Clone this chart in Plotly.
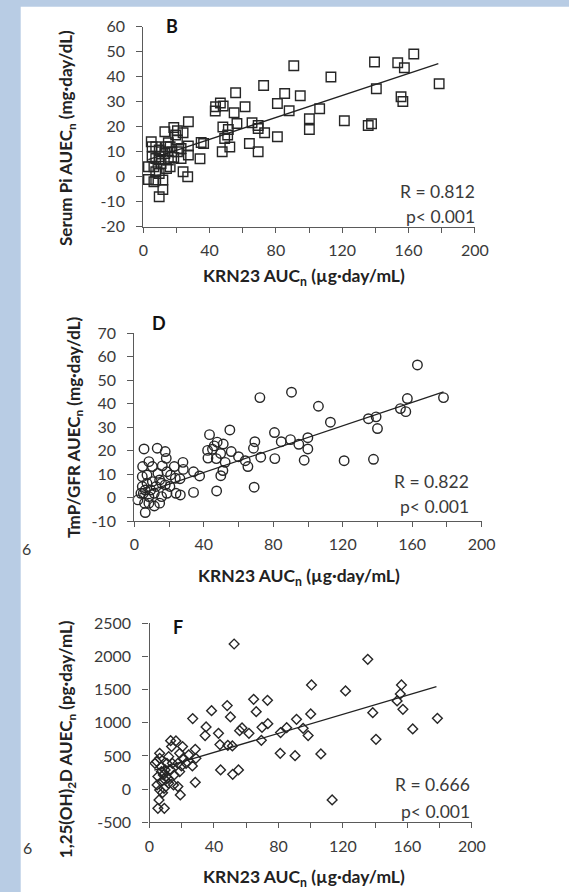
import plotly.graph_objects as go

W, H = 569, 892

# ---------------- Data ----------------
# Panel B: Serum Pi AUECn vs KRN23 AUCn
b_x = [163.2, 139.5, 153.5, 157.5, 90.8, 113.2, 72.6, 178.5, 140.6, 55.7, 85.3, 94.7, 155.5, 156.6,
       46.5, 80.9, 43.6, 48.2, 61.4, 43.4, 54.8, 88.0, 106.4, 56.5, 65.6, 100.2, 100.2, 121.3, 135.7,
       137.7, 48.0, 51.3, 69.3, 69.3, 73.2, 80.9, 50.9, 49.1, 36.4, 34.9, 64.0, 52.2, 47.6, 69.3, 34.2,
       27.2, 18.4, 20.6, 13.0, 24.0, 19.5, 20.6, 4.8, 15.1, 7.5, 16.2, 22.8, 27.2, 20.6, 13.0, 27.2,
       9.6, 5.3, 18.4, 15.1, 3.1, 10.7, 6.4, 7.5, 24.0, 26.8, 3.1, 7.5, 11.8, 11.8, 9.6, 6.4, 16.2,
       14.0, 9.6, 5.3, 10.7, 9.6, 7.5, 17.3, 14.0, 22.8, 9.6]
b_y = [49.1, 45.9, 45.6, 43.6, 44.4, 39.9, 36.5, 37.2, 35.2, 33.6, 33.3, 32.4, 32.0, 30.1,
       29.5, 29.3, 28.0, 28.3, 28.0, 26.3, 25.6, 26.4, 27.2, 21.3, 21.6, 23.2, 18.9, 22.4, 20.5,
       21.2, 19.9, 18.9, 20.5, 19.3, 17.6, 16.0, 16.7, 15.3, 13.3, 13.7, 13.3, 11.9, 10.0, 10.0, 7.2,
       22.0, 19.7, 18.4, 18.0, 17.6, 16.7, 14.7, 14.0, 13.6, 12.0, 12.0, 11.3, 12.3, 10.0, 9.3, 8.7,
       8.0, 8.0, 7.7, 6.7, 4.0, 5.3, 4.0, 2.0, 2.0, 0.0, -1.1, -1.3, -1.3, -5.1, -8.0, -2.0, 4.0,
       3.3, 1.3, 12.0, 10.0, 6.7, 7.3, 10.0, 12.0, 7.3, 10.7]
b_fit_x = [3, 178]
b_fit_y = [6.8, 45.2]

# Panel D: TmP/GFR AUECn vs KRN23 AUCn
d_x = [163.0, 90.5, 72.3, 178.0, 157.2, 106.0, 153.2, 156.3, 134.8, 139.2, 140.0, 112.9, 55.0, 43.3,
       80.7, 89.9, 84.6, 99.9, 94.7, 99.9, 69.4, 68.6, 72.8, 80.9, 97.8, 120.8, 137.7, 47.7, 46.0,
       51.2, 42.2, 45.0, 49.7, 55.8, 42.4, 47.2, 52.3, 60.0, 63.9, 65.4, 51.0, 49.8, 34.1, 37.6, 34.1,
       47.4, 69.0, 28.0, 28.2, 26.3, 26.5, 23.6, 23.0, 17.8, 18.4, 13.2, 5.6, 4.8, 8.4, 10.4, 13.6,
       16.1, 18.8, 14.6, 17.8, 20.5, 24.0, 18.8, 15.7, 14.6, 11.5, 8.4, 6.3, 2.1, 4.6, 4.6, 5.2, 7.3,
       9.4, 8.4, 12.5, 10.4, 6.3, 7.3, 11.5, 20.9, 15.7, 3.8, 5.9]
d_y = [56.5, 44.9, 42.6, 42.6, 42.2, 38.9, 37.9, 36.6, 33.6, 34.4, 29.4, 32.1, 28.8, 26.8,
       27.7, 24.7, 23.8, 25.5, 22.7, 20.7, 23.8, 21.0, 17.2, 16.6, 15.9, 15.7, 16.3, 23.6, 22.0,
       22.8, 20.1, 20.6, 18.8, 19.6, 16.8, 16.6, 15.0, 17.4, 15.7, 13.2, 11.5, 9.3, 11.0, 9.2, 2.2,
       2.8, 4.4, 15.0, 12.0, 8.0, 1.1, 8.2, 13.2, 19.6, 16.7, 21.0, 20.7, 13.2, 15.3, 13.2, 10.3,
       13.5, 11.0, 7.5, 5.4, 4.7, 1.8, 1.8, 0.4, -2.4, -3.6, -2.4, -6.4, -1.0, 8.9, 4.7, 1.8, 6.1,
       3.2, 0.4, 4.7, 6.8, 3.2, 9.6, 1.8, 9.6, 6.1, 1.8, -2.4]
d_fit_x = [3, 178]
d_fit_y = [1.5, 45.0]

# Panel F: 1,25(OH)2D AUECn vs KRN23 AUCn
f_x = [52.5, 135.4, 100.5, 156.3, 121.6, 155.6, 153.6, 157.2, 138.5, 178.6, 163.3, 140.5, 100.0, 98.4,
       95.3, 91.2, 85.1, 81.3, 81.1, 90.3, 106.3, 113.3, 64.6, 73.2, 66.2, 73.4, 69.8, 69.4, 61.7,
       57.4, 55.9, 48.2, 50.2, 38.5, 26.8, 35.1, 34.5, 42.8, 43.7, 48.6, 51.4, 44.1, 51.6, 55.2, 28.4,
       28.8, 26.6, 28.4, 24.3, 20.5, 18.7, 21.0, 16.4, 13.1, 13.7, 17.6, 18.7, 19.1, 17.6, 14.9, 11.9,
       11.5, 10.8, 9.7, 6.3, 4.5, 3.4, 6.3, 7.4, 5.2, 4.7, 7.4, 8.6, 9.7, 8.1, 5.9, 5.2, 9.2, 6.3,
       9.0, 13.1, 15.3, 7.4, 10.4, 11.9, 14.2, 19.8, 22.7]
f_y = [2188, 1957, 1570, 1570, 1480, 1435, 1329, 1204, 1153, 1068, 907, 751, 1133, 807,
       917, 1053, 927, 852, 540, 505, 530, -163, 1354, 1339, 1168, 987, 932, 736, 842,
       922, 882, 1259, 1088, 1183, 1063, 937, 807, 842, 671, 661, 651, 289, 224, 289, 601,
       465, 349, 103, 515, 641, 540, 465, 726, 731, 641, 389, 264, -88, 38, 63, 88,
       163, 389, 289, 540, 415, 389, 465, 264, 189, 63, 113, 214, 138, -53, -163, -289, -289, -13,
       13, 289, 214, 339, 189, 490, 389, 349, 389]
f_fit_x = [3, 178]
f_fit_y = [288, 1545]

x_range = [0, 200]
b_range, d_range, f_range = [-20, 60], [-10, 70], [-500, 2500]

# y tick labels (plain hyphen minus, as in the reference)
b_ticks = [-20, -10, 0, 10, 20, 30, 40, 50, 60]
b_ticklabels = ["-20", "-10", "0", "10", "20", "30", "40", "50", "60"]
d_ticks = [-10, 0, 10, 20, 30, 40, 50, 60, 70]
d_ticklabels = ["-10", "0", "10", "20", "30", "40", "50", "60", "70"]
f_ticks = [-500, 0, 500, 1000, 1500, 2000, 2500]
f_ticklabels = ["-500", "0", "500", "1000", "1500", "2000", "2500"]

x_title = "KRN23 AUC<sub>n</sub> (µg·day/mL)"
b_title = "Serum Pi AUEC<sub>n</sub> (mg·day/dL)"
d_title = "TmP/GFR AUEC<sub>n</sub> (mg·day/dL)"
f_title = "1,25(OH)<sub>2</sub>D AUEC<sub>n</sub> (pg·day/mL)"
stats = [("R = 0.812", "p< 0.001"), ("R = 0.822", "p< 0.001"), ("R = 0.666", "p< 0.001")]
letters = ["B", "D", "F"]

# ---------------- Layout helpers ----------------
FONT = "Lato, 'Open Sans', sans-serif"
TXT = "#3a3a3a"
AX = "#5a5a5a"
MK = "#262626"


def fx(px):
    return px / W


def fy(py):
    return 1 - py / H


panels = [
    dict(x0=143.3, x1=474.8, yt=26.7, yb=226.7),
    dict(x0=134.3, x1=481.7, yt=333.3, yb=521.0),
    dict(x0=149.5, x1=471.9, yt=623.3, yb=822.3),
]

fig = go.Figure()

series = [
    (b_x, b_y, b_fit_x, b_fit_y, "square-open", 9.5),
    (d_x, d_y, d_fit_x, d_fit_y, "circle-open", 9.5),
    (f_x, f_y, f_fit_x, f_fit_y, "diamond-open", 7.5),
]

for i, (xs, ys, fxs, fys, sym, sz) in enumerate(series):
    suf = "" if i == 0 else str(i + 1)
    fig.add_trace(go.Scatter(x=xs, y=ys, mode="markers", xaxis="x" + suf, yaxis="y" + suf,
                             marker=dict(symbol=sym, size=sz, color=MK, line=dict(width=1.4, color=MK)),
                             cliponaxis=False, showlegend=False, hoverinfo="skip"))
    fig.add_trace(go.Scatter(x=fxs, y=fys, mode="lines", xaxis="x" + suf, yaxis="y" + suf,
                             line=dict(color="#222222", width=1.3), showlegend=False, hoverinfo="skip"))

yranges = [b_range, d_range, f_range]
yticks = [(b_ticks, b_ticklabels), (d_ticks, d_ticklabels), (f_ticks, f_ticklabels)]

layout = dict(
    template="none",
    width=W, height=H, autosize=False,
    margin=dict(l=0, r=0, t=0, b=0, pad=0, autoexpand=False),
    paper_bgcolor="#b8cce4", plot_bgcolor="rgba(0,0,0,0)",
    font=dict(family=FONT, color=TXT, size=16),
    shapes=[dict(type="rect", xref="paper", yref="paper", x0=fx(20.7), x1=1.0, y0=0, y1=fy(6.7),
                 fillcolor="white", line=dict(width=0), layer="below")],
    annotations=[],
)

for i, p in enumerate(panels):
    suf = "" if i == 0 else str(i + 1)
    layout["xaxis" + suf] = dict(
        domain=[fx(p["x0"]), fx(p["x1"])], anchor="y" + suf, range=x_range, automargin=False,
        dtick=40, tick0=0, ticks="outside", ticklen=5, tickwidth=1.2, tickcolor=AX,
        minor=dict(dtick=20, ticks="outside", ticklen=5, tickwidth=1.2, tickcolor=AX),
        showline=True, linecolor=AX, linewidth=1.3, showgrid=False, zeroline=False,
        tickfont=dict(size=16, color=TXT, family=FONT), ticklabelstandoff=4, fixedrange=True)
    layout["yaxis" + suf] = dict(
        domain=[fy(p["yb"]), fy(p["yt"])], anchor="x" + suf, range=yranges[i], automargin=False,
        tickmode="array", tickvals=yticks[i][0], ticktext=yticks[i][1],
        ticks="outside", ticklen=6, tickwidth=1.2, tickcolor=AX,
        showline=True, linecolor=AX, linewidth=1.3, showgrid=False, zeroline=False,
        tickfont=dict(size=16, color=TXT, family=FONT), ticklabelstandoff=8, fixedrange=True)

ann = layout["annotations"]
xtitle_pos = [(304, 277), (298.5, 577.3), (304, 878.3)]
ytitle_pos = [(67, 138), (74.4, 427.5), (67.2, 739)]
ytitles = [b_title, d_title, f_title]
letter_pos = [(172, 26), (158.6, 323.3), (178, 627.3)]
stat_pos = [(477, 192, 217), (470.8, 481.7, 506.7), (471.9, 784.3, 811)]

for i in range(3):
    ann.append(dict(xref="paper", yref="paper", x=fx(xtitle_pos[i][0]), y=fy(xtitle_pos[i][1]),
                    text="<b>" + x_title + "</b>", showarrow=False, xanchor="center", yanchor="middle",
                    font=dict(size=17.5, color="#222222", family=FONT)))
    ann.append(dict(xref="paper", yref="paper", x=fx(ytitle_pos[i][0]), y=fy(ytitle_pos[i][1]),
                    text="<b>" + ytitles[i] + "</b>", showarrow=False, xanchor="center", yanchor="middle",
                    textangle=-90, font=dict(size=17, color="#222222", family=FONT)))
    ann.append(dict(xref="paper", yref="paper", x=fx(letter_pos[i][0]), y=fy(letter_pos[i][1]),
                    text="<b>" + letters[i] + "</b>", showarrow=False, xanchor="center", yanchor="middle",
                    font=dict(size=18, color="#111111", family=FONT)))
    ann.append(dict(xref="paper", yref="paper", x=fx(stat_pos[i][0]), y=fy(stat_pos[i][1]),
                    text=stats[i][0], showarrow=False, xanchor="right", yanchor="middle",
                    font=dict(size=17.5, color=TXT, family=FONT)))
    ann.append(dict(xref="paper", yref="paper", x=fx(stat_pos[i][0]), y=fy(stat_pos[i][2]),
                    text=stats[i][1], showarrow=False, xanchor="right", yanchor="middle",
                    font=dict(size=17.5, color=TXT, family=FONT)))

ann.append(dict(xref="paper", yref="paper", x=fx(20), y=fy(548), text="6", showarrow=False,
                xanchor="left", yanchor="middle", font=dict(size=16, color=TXT, family=FONT)))
ann.append(dict(xref="paper", yref="paper", x=fx(21), y=fy(847), text="6", showarrow=False,
                xanchor="left", yanchor="middle", font=dict(size=16, color=TXT, family=FONT)))

fig.update_layout(**layout)
fig.write_html("out.html")
